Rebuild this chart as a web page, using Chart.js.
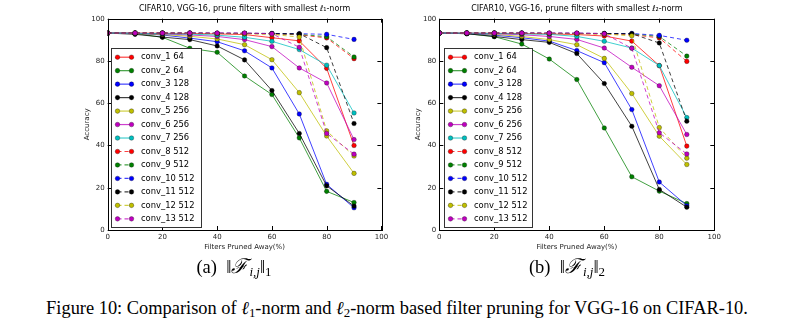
<!DOCTYPE html>
<html>
<head>
<meta charset="utf-8">
<script src="https://cdn.jsdelivr.net/npm/chart.js@4.4.1/dist/chart.umd.min.js"></script>
<style>
  body { margin: 0; background: #fff; width: 789px; height: 329px; position: relative; overflow: hidden; }
  canvas { position: absolute; top: 0; }
  .sub, .cap { position: absolute; font-family: "Liberation Serif", "DejaVu Serif", serif; white-space: nowrap; color: #000; }
  .sub { top: 254px; font-size: 18.5px; line-height: 24px; transform: translateX(-50%); }
  .cap { top: 296px; left: 397px; font-size: 18.4px; line-height: 24px; transform: translateX(-50%); }
  .sub sub, .cap sub { font-size: 70%; vertical-align: -0.25em; }
  .sub i.f { font-size: 110%; margin-right: 1px; }
</style>
</head>
<body>
<canvas id="l1" width="335" height="258" style="left:60px;width:335px;height:258px"></canvas>
<canvas id="l2" width="335" height="258" style="left:392px;width:335px;height:258px"></canvas>
<div class="sub" style="left:234px">(a)&nbsp; ‖<i class="f">ℱ</i><sub><i>i,j</i></sub>‖<sub>1</sub></div>
<div class="sub" style="left:567px">(b)&nbsp; ‖<i class="f">ℱ</i><sub><i>i,j</i></sub>‖<sub>2</sub></div>
<div class="cap">Figure 10: Comparison of <i>ℓ</i><sub>1</sub>-norm and <i>ℓ</i><sub>2</sub>-norm based filter pruning for VGG-16 on CIFAR-10.</div>
<script>
// filters pruned away (%)
const pruned = [0, 10, 20, 30, 40, 50, 60, 70, 80, 90];
const layers = ['conv_1 64', 'conv_2 64', 'conv_3 128', 'conv_4 128', 'conv_5 256', 'conv_6 256', 'conv_7 256',
                'conv_8 512', 'conv_9 512', 'conv_10 512', 'conv_11 512', 'conv_12 512', 'conv_13 512'];
const colors = ['#ff0000', '#008000', '#0000ff', '#000000', '#bfbf00', '#bf00bf', '#00bfbf'];
const yTicks = [0, 20, 40, 60, 80, 100];
const xTicks = [0, 20, 40, 60, 80, 100];

// accuracy, l1-norm pruning
const l1 = [
  [93.2, 93.2, 93.1, 93.0, 92.8, 92.5, 91.0, 89.5, 76.5, 40.0],
  [93.2, 93.0, 91.2, 86.0, 84.1, 72.9, 64.1, 43.6, 18.3, 13.0],
  [93.2, 93.0, 92.3, 90.8, 89.1, 84.8, 76.7, 54.9, 21.6, 10.5],
  [93.2, 92.6, 91.3, 90.1, 87.1, 80.5, 66.0, 45.7, 20.9, 11.3],
  [93.2, 93.0, 92.5, 91.7, 90.4, 87.7, 80.6, 65.0, 44.5, 26.8],
  [93.2, 93.1, 92.8, 92.3, 91.6, 90.1, 86.8, 76.7, 69.6, 42.8],
  [93.2, 93.1, 92.9, 92.7, 92.2, 91.2, 89.3, 85.4, 78.0, 55.4],
  [93.2, 93.2, 93.2, 93.1, 93.1, 93.0, 92.8, 92.4, 90.9, 81.1],
  [93.2, 93.2, 93.2, 93.1, 93.0, 93.0, 92.9, 92.6, 91.5, 81.9],
  [93.2, 93.2, 93.2, 93.2, 93.1, 93.1, 93.0, 92.9, 92.6, 90.2],
  [93.2, 93.2, 93.2, 93.2, 93.1, 93.1, 93.0, 92.9, 86.3, 50.4],
  [93.2, 93.2, 93.2, 93.1, 93.0, 92.9, 92.6, 91.3, 46.9, 35.0],
  [93.2, 93.2, 93.2, 93.2, 93.2, 93.2, 92.9, 86.5, 45.7, 35.9]
];

// accuracy, l2-norm pruning
const l2 = [
  [93.2, 93.2, 93.1, 93.0, 92.8, 92.5, 91.8, 89.4, 77.8, 39.7],
  [93.2, 92.9, 91.5, 88.0, 80.9, 71.2, 48.3, 25.2, 18.4, 12.5],
  [93.2, 93.0, 92.2, 91.0, 89.4, 84.9, 79.2, 57.0, 22.7, 11.5],
  [93.2, 92.9, 91.6, 90.1, 88.8, 83.5, 69.3, 49.1, 19.2, 10.8],
  [93.2, 93.1, 92.6, 91.6, 90.1, 87.7, 81.2, 64.6, 44.4, 31.0],
  [93.2, 93.1, 92.9, 92.4, 91.6, 90.2, 86.1, 77.0, 68.3, 45.2],
  [93.2, 93.2, 93.0, 92.8, 92.6, 91.6, 89.3, 86.1, 77.8, 53.2],
  [93.2, 93.2, 93.2, 93.1, 93.1, 93.0, 92.8, 92.5, 90.9, 79.8],
  [93.2, 93.2, 93.2, 93.1, 93.0, 93.0, 92.9, 92.8, 91.6, 82.3],
  [93.2, 93.2, 93.2, 93.2, 93.1, 93.1, 93.0, 93.0, 92.1, 89.8],
  [93.2, 93.2, 93.2, 93.2, 93.1, 93.1, 93.0, 92.9, 88.5, 51.5],
  [93.2, 93.2, 93.2, 93.1, 93.0, 92.9, 92.7, 91.9, 48.5, 34.0],
  [93.2, 93.2, 93.2, 93.2, 93.2, 93.2, 92.9, 86.0, 46.0, 36.0]
];

const FONT = 'DejaVu Sans';

function alpha(hex, a) {
  const n = parseInt(hex.slice(1), 16);
  return `rgba(${n >> 16},${(n >> 8) & 255},${n & 255},${a})`;
}

// box round the axes with inward ticks on all four sides
const frame = {
  id: 'frame',
  afterDatasetsDraw(chart) {
    const {ctx, chartArea: a, scales} = chart;
    ctx.save();
    ctx.strokeStyle = '#000';
    ctx.lineWidth = 1;
    ctx.strokeRect(Math.round(a.left) + 0.5, Math.round(a.top) + 0.5,
                   Math.round(a.right - a.left), Math.round(a.bottom - a.top));
    ctx.beginPath();
    xTicks.forEach(v => {
      const px = Math.round(scales.x.getPixelForValue(v)) + 0.5;
      ctx.moveTo(px, a.bottom); ctx.lineTo(px, a.bottom - 4);
      ctx.moveTo(px, a.top); ctx.lineTo(px, a.top + 4);
    });
    yTicks.forEach(v => {
      const py = Math.round(scales.y.getPixelForValue(v)) + 0.5;
      ctx.moveTo(a.left, py); ctx.lineTo(a.left + 4, py);
      ctx.moveTo(a.right, py); ctx.lineTo(a.right - 4, py);
    });
    ctx.stroke();
    ctx.restore();
  }
};

// matplotlib-like legend box inside the axes
const boxLegend = {
  id: 'boxLegend',
  afterDraw(chart, args, opts) {
    const {ctx, chartArea: a} = chart;
    const x0 = Math.round(a.left + opts.dx) + 0.5;
    const y1 = Math.round(a.bottom - 3) + 0.5;
    const y0 = y1 - 179;
    ctx.save();
    ctx.fillStyle = '#fff';
    ctx.fillRect(x0, y0, opts.w, y1 - y0);
    ctx.strokeStyle = '#333';
    ctx.lineWidth = 1;
    ctx.strokeRect(x0, y0, opts.w, y1 - y0);
    ctx.font = `8.4px "${FONT}"`;
    ctx.textBaseline = 'middle';
    chart.data.datasets.forEach((ds, i) => {
      const y = y0 + 8.7 + i * 13.47;
      ctx.strokeStyle = ds.borderColor;
      ctx.lineWidth = 1.2;
      ctx.setLineDash(ds.borderDash);
      ctx.beginPath();
      ctx.moveTo(x0 + 6, y); ctx.lineTo(x0 + 20, y);
      ctx.stroke();
      ctx.setLineDash([]);
      [x0 + 6, x0 + 20].forEach(mx => {
        ctx.beginPath();
        ctx.arc(mx, y, 2.3, 0, Math.PI * 2);
        ctx.fillStyle = ds.pointBackgroundColor;
        ctx.fill();
        ctx.strokeStyle = 'rgba(0,0,0,0.6)';
        ctx.lineWidth = 0.5;
        ctx.stroke();
      });
      ctx.fillStyle = '#000';
      ctx.fillText(ds.label, x0 + 29.5, y);
    });
    ctx.restore();
  }
};

function makeChart(id, series, title, yWidth, padRight, legendDx, legendW) {
  const datasets = layers.map((name, i) => {
    const c = colors[i % 7];
    return {
      label: name,
      data: series[i].map((v, k) => ({x: pruned[k], y: v})),
      borderColor: alpha(c, 0.75),
      backgroundColor: c,
      borderWidth: 1,
      borderDash: i >= 7 ? [4, 3] : [],
      pointRadius: 2.3,
      pointBackgroundColor: c,
      pointBorderColor: 'rgba(0,0,0,0.6)',
      pointBorderWidth: 0.5,
      tension: 0,
      order: 13 - i
    };
  });
  const tickFont = {family: FONT, size: 7};
  new Chart(document.getElementById(id), {
    type: 'line',
    data: {datasets},
    options: {
      responsive: false,
      animation: false,
      devicePixelRatio: 1,
      layout: {padding: {left: 0, right: padRight, top: 0, bottom: 0}},
      plugins: {
        legend: {display: false},
        tooltip: {enabled: false},
        title: {
          display: true, text: title, fullSize: false, color: '#000',
          font: {family: FONT, size: 8, weight: 'normal', lineHeight: 1.2},
          padding: {top: 4.5, bottom: 4.6}
        },
        boxLegend: {dx: legendDx, w: legendW}
      },
      scales: {
        x: {
          type: 'linear', min: 0, max: 100,
          afterBuildTicks: s => { s.ticks = xTicks.map(v => ({value: v})); },
          afterFit: s => { s.height = 28; },
          ticks: {color: '#222', font: tickFont, padding: 3, maxRotation: 0},
          grid: {display: false, drawTicks: false},
          border: {display: false},
          title: {display: true, text: 'Filters Pruned Away(%)', color: '#222',
                  font: {family: FONT, size: 7, lineHeight: 1.2}, padding: {top: 0, bottom: 6.5}}
        },
        y: {
          type: 'linear', min: 0, max: 100,
          afterBuildTicks: s => { s.ticks = yTicks.map(v => ({value: v})); },
          afterFit: s => { s.width = yWidth; },
          ticks: {color: '#222', font: tickFont, padding: 3},
          grid: {display: false, drawTicks: false},
          border: {display: false},
          title: {display: true, text: 'Accuracy', color: '#222',
                  font: {family: FONT, size: 7, lineHeight: 1.2}, padding: {top: yWidth - 25, bottom: 0}}
        }
      }
    },
    plugins: [frame, boxLegend]
  });
}

makeChart('l1', l1, 'CIFAR10, VGG-16, prune filters with smallest ℓ₁-norm', 47.7, 13.6, 3, 90);
makeChart('l2', l2, 'CIFAR10, VGG-16, prune filters with smallest ℓ₂-norm', 47.3, 12.7, 5, 88);
</script>
</body>
</html>
